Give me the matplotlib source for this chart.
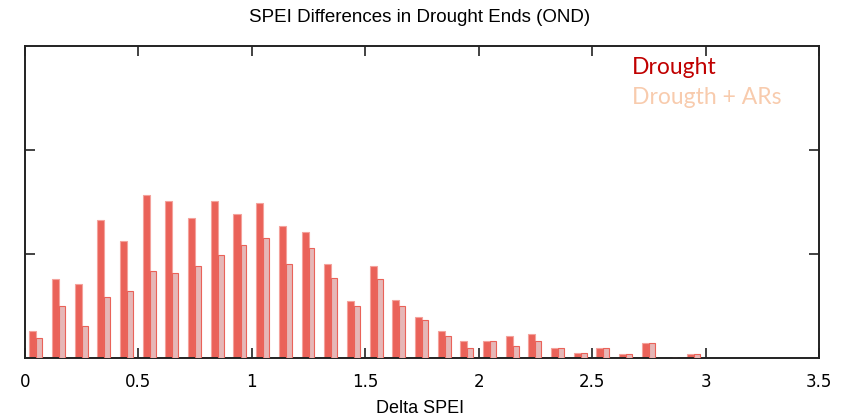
import matplotlib
matplotlib.use("Agg")
import matplotlib.pyplot as plt
import numpy as np

bin_centers = [0.05, 0.15, 0.25, 0.35, 0.45, 0.55, 0.65, 0.75, 0.85, 0.95,
               1.05, 1.15, 1.25, 1.35, 1.45, 1.55, 1.65, 1.75, 1.85, 1.95,
               2.05, 2.15, 2.25, 2.35, 2.45, 2.55, 2.65, 2.75, 2.85, 2.95]
drought = [0.26, 0.76, 0.71, 1.33, 1.125, 1.57, 1.51, 1.35, 1.51, 1.38,
           1.49, 1.27, 1.21, 0.90, 0.55, 0.885, 0.56, 0.39, 0.26, 0.16,
           0.16, 0.21, 0.23, 0.10, 0.05, 0.10, 0.035, 0.145, 0.0, 0.04]
drought_ars = [0.19, 0.50, 0.31, 0.59, 0.64, 0.84, 0.82, 0.88, 0.99, 1.09,
               1.15, 0.90, 1.06, 0.77, 0.50, 0.76, 0.50, 0.37, 0.21, 0.10,
               0.16, 0.115, 0.16, 0.10, 0.05, 0.10, 0.035, 0.145, 0.0, 0.04]
x_ticks = [0, 0.5, 1, 1.5, 2, 2.5, 3, 3.5]
x_tick_labels = ["0", "0.5", "1", "1.5", "2", "2.5", "3", "3.5"]

fig = plt.figure(figsize=(8.5, 4.19), dpi=100)
ax = fig.add_axes([25/850, 61/419, 794/850, 312/419])

c = np.array(bin_centers)
ax.bar(c - 0.031, drought, width=0.031, align='edge', color='#ea6259',
       edgecolor='#f4a29c', linewidth=0.8, zorder=2)
ax.bar(c, drought_ars, width=0.026, align='edge', color='#e6b7b7',
       edgecolor='#ea6259', linewidth=0.8, zorder=3)

ax.set_xlim(0, 3.5)
ax.set_ylim(0, 3)
ax.set_xticks(x_ticks)
ax.set_xticklabels(x_tick_labels, fontsize=12, family='DejaVu Sans')
ax.set_yticks([1, 2])
ax.set_yticklabels([])
ax.tick_params(axis='both', direction='in', top=True, right=True,
               length=7, width=1.2, color='#222222', pad=11)
for s in ax.spines.values():
    s.set_linewidth(1.4)
    s.set_color('#222222')

fig.text(420/850, 1 - 18/419, "SPEI Differences in Drought Ends (OND)",
         ha='center', va='center', fontsize=13.5,
         family=['Liberation Sans Narrow', 'Liberation Sans', 'DejaVu Sans'])
fig.text(420/850, 1 - 408/419, "Delta SPEI", ha='center', va='center',
         fontsize=13, family=['Liberation Sans', 'DejaVu Sans'])

fig.text(632/850, 1 - 67/419, "Drought", ha='left', va='center',
         fontsize=16.5, color='#c00000', family=['Lato', 'DejaVu Sans'])
fig.text(632/850, 1 - 98/419, "Drougth + ARs", ha='left', va='center',
         fontsize=16.5, color='#f8cbad', family=['Lato', 'DejaVu Sans'])

fig.savefig("out.png", dpi=100)
